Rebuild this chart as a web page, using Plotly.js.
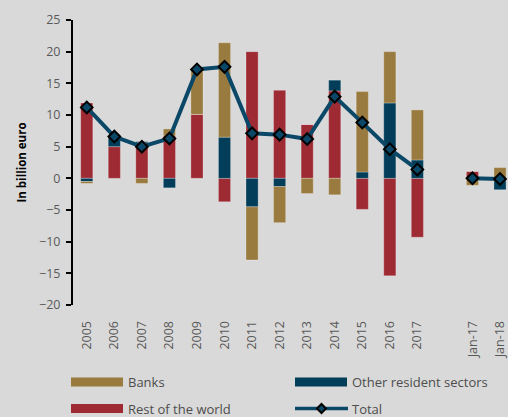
<!DOCTYPE html>
<html><head><meta charset="utf-8">
<script src="https://cdn.plot.ly/plotly-3.0.1.min.js"></script>
<style>html,body{margin:0;padding:0;background:#d9d9d9;}#chart{width:508px;height:417px;}</style>
</head><body><div id="chart"></div>
<script>
var categories = ['2005','2006','2007','2008','2009','2010','2011','2012','2013','2014','2015','2016','2017',' ','Jan-17','Jan-18'];
var banks      = [-0.3, 0,   -0.8, 1.1, 7.0, 14.9, -8.4, -5.7, -2.4, -2.6, 12.7, 8.1, 7.9, null, -1.1, 1.7];
var otherRes   = [-0.5, 1.6,  0.2, -1.5, 0,   6.5, -4.5, -1.3, 0,    1.7,  1.0, 11.9, 2.9, null, 0, -1.4];
var restWorld  = [11.9, 5.0,  5.6, 6.7, 10.1, -3.7, 20.0, 13.9, 8.5, 13.8, -4.9, -15.4, -9.3, null, 1.1, -0.4];
var total      = [11.2, 6.6,  5.0, 6.3, 17.2, 17.6, 7.1, 6.9, 6.2, 12.9, 8.8, 4.6, 1.4, null, 0.0, -0.1];
var yTicks = [-20,-15,-10,-5,0,5,10,15,20,25];
var legendNames = ['Banks','Other resident sectors','Rest of the world','Total'];

var cBanks = '#9a7b3f', cOther = '#023e5a', cRest = '#9e2a34', cTotal = '#0b4867';
var edge = {color:'rgba(255,255,255,0.25)', width:1};
var traces = [
  {type:'bar', name:'Rest of the world', x:categories, y:restWorld, marker:{color:cRest, line:edge}, width:0.44},
  {type:'bar', name:'Other resident sectors', x:categories, y:otherRes, marker:{color:cOther, line:edge}, width:0.44},
  {type:'bar', name:'Banks', x:categories, y:banks, marker:{color:cBanks, line:edge}, width:0.44},
  {type:'scatter', mode:'lines+markers', name:'Total', x:categories, y:total, connectgaps:false,
   line:{color:cTotal, width:4}, marker:{symbol:'diamond', size:9, color:cTotal, line:{color:'#000', width:2}}}
];

// page geometry helpers (pixels -> paper) for the hand-built legend
var W = 508, H = 417, ML = 73, MR = 0, MT = 20, MB = 112;
var PW = W - ML - MR, PH = H - MT - MB;
function px(x){ return (x - ML) / PW; }
function py(y){ return (H - MB - y) / PH; }

var legendItems = [
  {name:legendNames[0], color:cBanks, kind:'bar',  x:71,  y:382},
  {name:legendNames[1], color:cOther, kind:'bar',  x:295, y:382},
  {name:legendNames[2], color:cRest,  kind:'bar',  x:71,  y:408.5},
  {name:legendNames[3], color:cTotal, kind:'line', x:295, y:408.5}
];
var shapes = [], annotations = [];
legendItems.forEach(function(it){
  if (it.kind === 'bar') {
    shapes.push({type:'rect', xref:'paper', yref:'paper', x0:px(it.x), x1:px(it.x+52), y0:py(it.y+4.5), y1:py(it.y-4.5),
      fillcolor:it.color, line:{width:0}});
  } else {
    shapes.push({type:'line', xref:'paper', yref:'paper', x0:px(it.x), x1:px(it.x+53), y0:py(it.y), y1:py(it.y),
      line:{color:it.color, width:3.5}});
    var cx = it.x + 26.5, cy = it.y, r = 4.5;
    shapes.push({type:'path', xref:'paper', yref:'paper',
      path:'M'+px(cx)+','+py(cy-r)+' L'+px(cx+r)+','+py(cy)+' L'+px(cx)+','+py(cy+r)+' L'+px(cx-r)+','+py(cy)+' Z',
      fillcolor:it.color, line:{color:'#000', width:2}});
  }
  annotations.push({xref:'paper', yref:'paper', x:px(it.x+56), y:py(it.y), xanchor:'left', yanchor:'middle',
    text:it.name, showarrow:false, borderpad:0, font:{family:'"Open Sans", sans-serif', size:13, color:'#4d4d4d'}});
});

var font = {family:'"Open Sans", sans-serif', size:12.5, color:'#595959'};
var layout = {
  width:W, height:H,
  margin:{l:ML, r:MR, t:MT, b:MB, pad:0, autoexpand:false},
  paper_bgcolor:'#d9d9d9', plot_bgcolor:'#d9d9d9',
  font:font, showlegend:false,
  barmode:'relative', bargap:0.5,
  xaxis:{type:'category', categoryorder:'array', categoryarray:categories, range:[-0.5,15.29],
    showline:false, showgrid:false, zeroline:false, ticks:'outside', ticklen:10, tickcolor:'rgba(0,0,0,0)',
    tickangle:-90, tickfont:font, automargin:false},
  xaxis2:{overlaying:'x', anchor:'free', position:20/45, range:[-0.5,15.29], tick0:0.5, dtick:1,
    showline:true, linecolor:'#000', linewidth:2, ticks:'outside', ticklen:4, tickwidth:2, tickcolor:'#000',
    showticklabels:false, showgrid:false, zeroline:false},
  yaxis:{range:[-20,25], tickvals:yTicks, showline:true, linecolor:'#000', linewidth:2,
    ticks:'outside', ticklen:5, tickwidth:2, tickcolor:'#000', showgrid:false, zeroline:false,
    tickfont:font, automargin:false, ticklabelstandoff:3,
    title:{text:'In billion euro', font:{family:'"Open Sans", sans-serif', size:11.5, color:'#000', weight:'bold'}, standoff:10}},
  shapes:shapes, annotations:annotations
};
Plotly.newPlot('chart', traces, layout, {displayModeBar:false, staticPlot:true});
</script></body></html>
